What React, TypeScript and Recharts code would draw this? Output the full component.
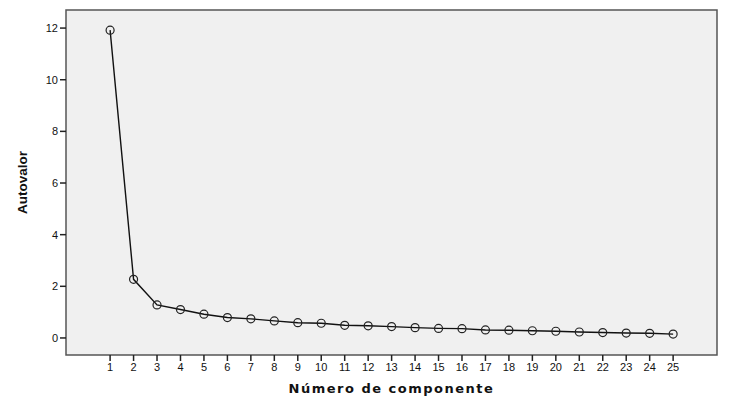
import { LineChart, Line, XAxis, YAxis } from "recharts";

// component number and eigenvalue (scree plot)
const componentes = [
  1, 2, 3, 4, 5, 6, 7, 8, 9, 10, 11, 12, 13, 14, 15, 16, 17, 18, 19, 20, 21, 22, 23, 24, 25,
];
const autovalores = [
  11.92, 2.27, 1.28, 1.1, 0.92, 0.79, 0.74, 0.66, 0.59, 0.57, 0.49, 0.47, 0.44, 0.4, 0.37,
  0.36, 0.31, 0.3, 0.28, 0.26, 0.23, 0.21, 0.19, 0.18, 0.15,
];
const yTicks = [0, 2, 4, 6, 8, 10, 12];

const data = componentes.map((c, i) => ({ comp: c, valor: autovalores[i] }));

const font = "'Liberation Sans', Arial, sans-serif";

export default function App() {
  return (
    <div style={{ width: 732, height: 404, background: "#fff", margin: -8 }}>
      <LineChart
        width={732}
        height={404}
        data={data}
        margin={{ top: 10, right: 15, left: 8, bottom: 9 }}
      >
        <rect x={66} y={10} width={651} height={345} fill="#f0f0f0" stroke="none" />
        <XAxis
          dataKey="comp"
          type="number"
          domain={[-0.88, 26.87]}
          ticks={componentes}
          interval={0}
          height={40}
          tickSize={6}
          tickLine={{ stroke: "#222", strokeWidth: 1.5 }}
          axisLine={false}
          tick={{ fontSize: 11, fill: "#111", fontFamily: font }}
          label={{
            value: "Número de componente",
            position: "insideBottom",
            offset: 2,
            style: {
              fontSize: 13,
              fontWeight: "bold",
              fill: "#111",
              fontFamily: "'DejaVu Sans', sans-serif",
              letterSpacing: 1.5,
            },
          }}
        />
        <YAxis
          type="number"
          domain={[-0.66, 12.7]}
          ticks={yTicks}
          width={58}
          tickSize={6}
          tickLine={{ stroke: "#222", strokeWidth: 1.5 }}
          axisLine={false}
          tick={{ fontSize: 11, fill: "#111", fontFamily: font }}
          label={{
            value: "Autovalor",
            angle: -90,
            position: "insideLeft",
            offset: 14,
            style: {
              textAnchor: "middle",
              fontSize: 13.5,
              fontWeight: "bold",
              fill: "#111",
              fontFamily: font,
            },
          }}
        />
        <Line
          dataKey="valor"
          stroke="#111"
          strokeWidth={1.4}
          dot={{ r: 4, stroke: "#222", strokeWidth: 1.2, fill: "none" }}
          activeDot={false}
          isAnimationActive={false}
        />
        <rect x={66} y={10} width={651} height={345} fill="none" stroke="#555" strokeWidth={1.5} />
      </LineChart>
    </div>
  );
}
